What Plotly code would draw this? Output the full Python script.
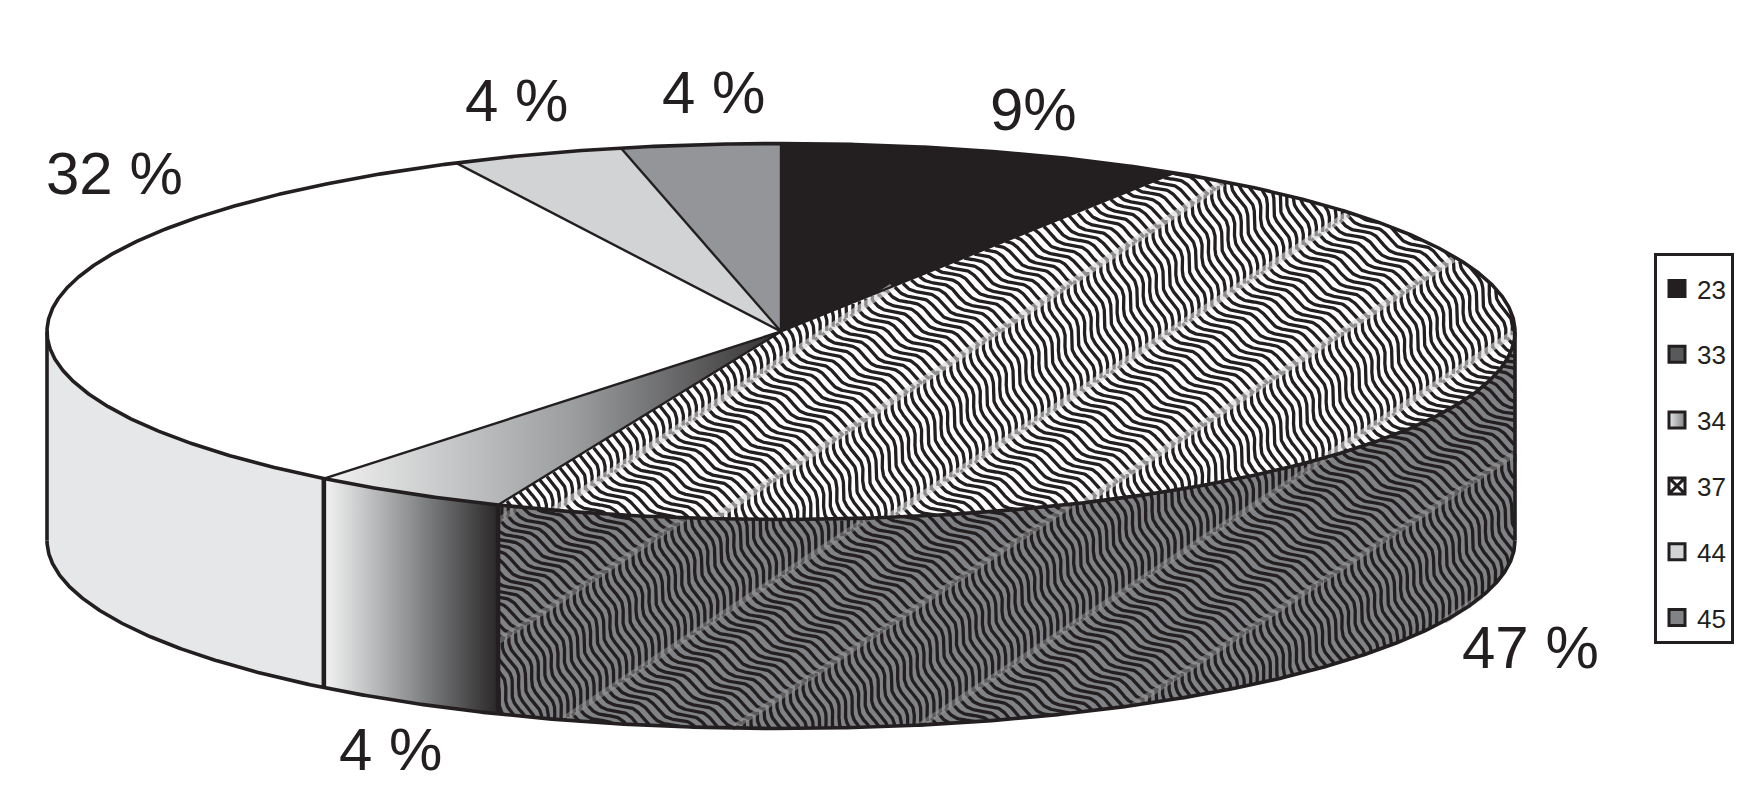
import numpy as np
import plotly.graph_objects as go

# ---------- data ----------
SLICE_CODES = ["23", "37", "34", "33", "44", "45"]
SLICE_VALUES = [9.0, 47.3, 4.4, 32.0, 3.8, 3.5]
SLICE_LABELS = ["9%", "47 %", "4 %", "32 %", "4 %", "4 %"]
LEGEND_CODES = ["23", "33", "34", "37", "44", "45"]

# ---------- style and layout ----------
W, H = 1759, 800
CX, CY, RX, RY, DEPTH = 781.0, 331.5, 734.0, 188.0, 209.0
INK = "#231f20"
TOP_FILL = {"23": INK, "37": "#ffffff", "34": None, "33": "#ffffff", "44": "#d1d3d4", "45": "#939598"}
SIDE_FILL = {"37": "#808285", "34": None, "33": "#e6e7e8"}
LABEL_XY = {0: (1033, 109), 1: (1530, 647), 2: (390, 749), 3: (114, 173), 4: (516, 100), 5: (713, 92)}
FONT = "Liberation Sans"
BAND_DIR = np.radians(-33.4)
SHALLOW, STEEP = np.radians(29), np.radians(70)
PERIOD, AMP, WAVELEN = 7.6, 3.2, 48.0

edges = np.concatenate([[0.0], np.cumsum(SLICE_VALUES)]) / np.sum(SLICE_VALUES) * 360.0


def rim(deg, drop=0.0):
    a = np.radians(deg)
    return CX + RX * np.sin(a), CY - RY * np.cos(a) + drop


def arc(a0, a1, drop=0.0):
    return rim(np.linspace(a0, a1, max(int(abs(a1 - a0) * 4), 2)), drop)


def top_polygon(a0, a1):
    x, y = arc(a0, a1)
    return np.r_[CX, x, CX], np.r_[CY, y, CY]


def side_polygon(a0, a1):
    x, y = arc(a0, a1)
    xb, yb = arc(a1, a0, DEPTH)
    return np.r_[x, xb, x[0]], np.r_[y, yb, y[0]]


def in_top(x, y, a0, a1):
    dx, dy = (x - CX) / RX, (CY - y) / RY
    ang = np.degrees(np.arctan2(dx, dy)) % 360
    return (dx**2 + dy**2 <= 1) & (ang >= a0) & (ang <= a1)


def in_side(x, y, a0, a1):
    x0, x1 = sorted([rim(a0)[0], rim(a1)[0]])
    dx = np.clip((x - CX) / RX, -1, 1)
    rim_y = CY + RY * np.sqrt(1 - dx**2)
    return (x >= x0) & (x <= x1) & (y >= rim_y) & (y <= rim_y + DEPTH)


def flatten(xs, ys, mask):
    xs = np.where(mask, xs, np.nan)
    ys = np.where(mask, ys, np.nan)
    keep = mask.any(axis=1)
    xs, ys = xs[keep], ys[keep]
    gap = np.full((xs.shape[0], 1), np.nan)
    fx = np.hstack([xs, gap]).ravel().round(1)
    fy = np.hstack([ys, gap]).ravel().round(1)
    return fx.tolist(), fy.tolist()


def wave_texture(region, x_ref, y_ref, x_step, shallow_parity):
    """Herringbone of wavy stripes, cut to a face by `region`."""
    bx, by = np.cos(BAND_DIR), np.sin(BAND_DIR)
    band_w = x_step * abs(np.sin(BAND_DIR))
    sx_all, sy_all, lx_all, ly_all = [], [], [], []
    for k in range(-4, 9):
        x0 = x_ref + k * x_step
        ang = SHALLOW if k % 2 == shallow_parity else STEEP
        sx, sy = np.cos(ang), np.sin(ang)
        cross = abs(bx * sy - by * sx)
        m = np.arange(-240, 240)[:, None]
        length = band_w / cross
        t = np.arange(0, length + 1.5, 1.5)[None, :]
        offs = AMP * np.sin(2 * np.pi * t / WAVELEN)
        px = x0 + m * PERIOD / cross * bx + t * sx - offs * sy
        py = y_ref + m * PERIOD / cross * by + t * sy + offs * sx
        fx, fy = flatten(px, py, region(px, py))
        sx_all += fx
        sy_all += fy
        s = np.arange(-1400, 1400, 3.0)[None, :]
        qx, qy = x0 + s * bx, y_ref + s * by
        fx, fy = flatten(qx, qy, region(qx, qy))
        lx_all += fx
        ly_all += fy
    return sx_all, sy_all, lx_all, ly_all


def face(x, y, color=None, gradient=None, name=""):
    kw = dict(fillgradient=gradient) if gradient else dict(fillcolor=color)
    return go.Scatter(x=x.round(1).tolist(), y=y.round(1).tolist(), mode="lines", fill="toself",
                      line=dict(width=0, color=INK), showlegend=False, hoverinfo="skip", name=name, **kw)


def stroke(x, y, width, color=INK):
    return go.Scatter(x=x, y=y, mode="lines", line=dict(color=color, width=width),
                      showlegend=False, hoverinfo="skip")


fig = go.Figure()

# side walls, front half only
for i, code in enumerate(SLICE_CODES):
    a0, a1 = max(edges[i], 90.0), min(edges[i + 1], 270.0)
    if a1 <= a0:
        continue
    x, y = side_polygon(a0, a1)
    if code == "34":
        grad = dict(type="horizontal", colorscale=[[0, "#f4f4f4"], [0.5, "#8e9092"], [1, "#2a2829"]])
        fig.add_trace(face(x, y, gradient=grad, name=code))
    else:
        fig.add_trace(face(x, y, SIDE_FILL[code], name=code))
    if code == "37":
        sx, sy, lx, ly = wave_texture(lambda px, py: in_side(px, py, a0, a1), 561.0, 600.0, 183.0, 1)
        fig.add_trace(stroke(sx, sy, 3.3))
        fig.add_trace(stroke(lx, ly, 6, "rgba(150,150,150,0.5)"))

# top faces
for i, code in enumerate(SLICE_CODES):
    a0, a1 = edges[i], edges[i + 1]
    x, y = top_polygon(a0, a1)
    if code == "34":
        grad = dict(type="horizontal", colorscale=[[0, "#f2f2f2"], [0.55, "#9a9c9e"], [1, "#333132"]])
        fig.add_trace(face(x, y, gradient=grad, name=code))
    else:
        fig.add_trace(face(x, y, TOP_FILL[code], name=code))
    if code == "37":
        sx, sy, lx, ly = wave_texture(lambda px, py: in_top(px, py, a0, a1), 716.0, 517.0, 173.0, 1)
        fig.add_trace(stroke(sx, sy, 3.3))
        fig.add_trace(stroke(lx, ly, 7, "rgba(215,215,215,0.6)"))

# outlines
spoke_x, spoke_y = [], []
for a in edges[:-1]:
    px, py = rim(a)
    spoke_x += [CX, float(px), None]
    spoke_y += [CY, float(py), None]
fig.add_trace(stroke(spoke_x, spoke_y, 2.4))

ex, ey = arc(0, 360)
bx_, by_ = arc(90, 270, DEPTH)
lx0, ly0 = rim(270)
rx0, ry0 = rim(90)
fig.add_trace(stroke(ex.tolist() + [None] + bx_.tolist() + [None, float(lx0), float(lx0), None, float(rx0), float(rx0)],
                     ey.tolist() + [None] + by_.tolist() + [None, float(ly0), float(ly0 + DEPTH), None, float(ry0), float(ry0 + DEPTH)],
                     3.6))
vx, vy = [], []
for a in edges[1:-1]:
    if 90 < a < 270:
        px, py = rim(a)
        vx += [float(px), float(px), None]
        vy += [float(py), float(py + DEPTH), None]
fig.add_trace(stroke(vx, vy, 4.6))

# legend
LEGEND_MARK = {
    "23": dict(color=INK, line=dict(color=INK, width=3)),
    "33": dict(color="#58595b", line=dict(color=INK, width=3)),
    "34": dict(color="#e6e7e8", gradient=dict(type="horizontal", color="#808285"), line=dict(color=INK, width=3)),
    "37": dict(color="#ffffff", symbol="square-x", line=dict(color=INK, width=3)),
    "44": dict(color="#d1d3d4", line=dict(color=INK, width=3)),
    "45": dict(color="#808285", line=dict(color=INK, width=3)),
}
for code in LEGEND_CODES:
    mark = dict(symbol="square", size=16)
    mark.update(LEGEND_MARK[code])
    fig.add_trace(go.Scatter(x=[None], y=[None], mode="markers", name=code, legendgroup=code, marker=mark, hoverinfo="skip"))

for i, text in enumerate(SLICE_LABELS):
    lx_, ly_ = LABEL_XY[i]
    fig.add_annotation(x=lx_, y=ly_, text=text, showarrow=False, xanchor="center", yanchor="middle",
                       font=dict(family=FONT, size=60, color=INK))

fig.update_layout(
    width=W, height=H, margin=dict(l=0, r=0, t=0, b=0), paper_bgcolor="white", plot_bgcolor="white",
    xaxis=dict(range=[0, W], visible=False, fixedrange=True),
    yaxis=dict(range=[H, 0], visible=False, fixedrange=True),
    showlegend=True,
    legend=dict(x=1654 / W, xanchor="left", y=1 - 253 / H, yanchor="top", bordercolor=INK, borderwidth=3,
                bgcolor="white", font=dict(family=FONT, size=26, color=INK), tracegroupgap=29,
                traceorder="grouped", itemwidth=30, itemclick=False, itemdoubleclick=False,
                title=dict(text=" ", font=dict(family=FONT, size=7))),
)
fig.write_html("out.html", config=dict(displayModeBar=False),
               post_script="document.body.style.margin='0';document.body.style.overflow='hidden';")
